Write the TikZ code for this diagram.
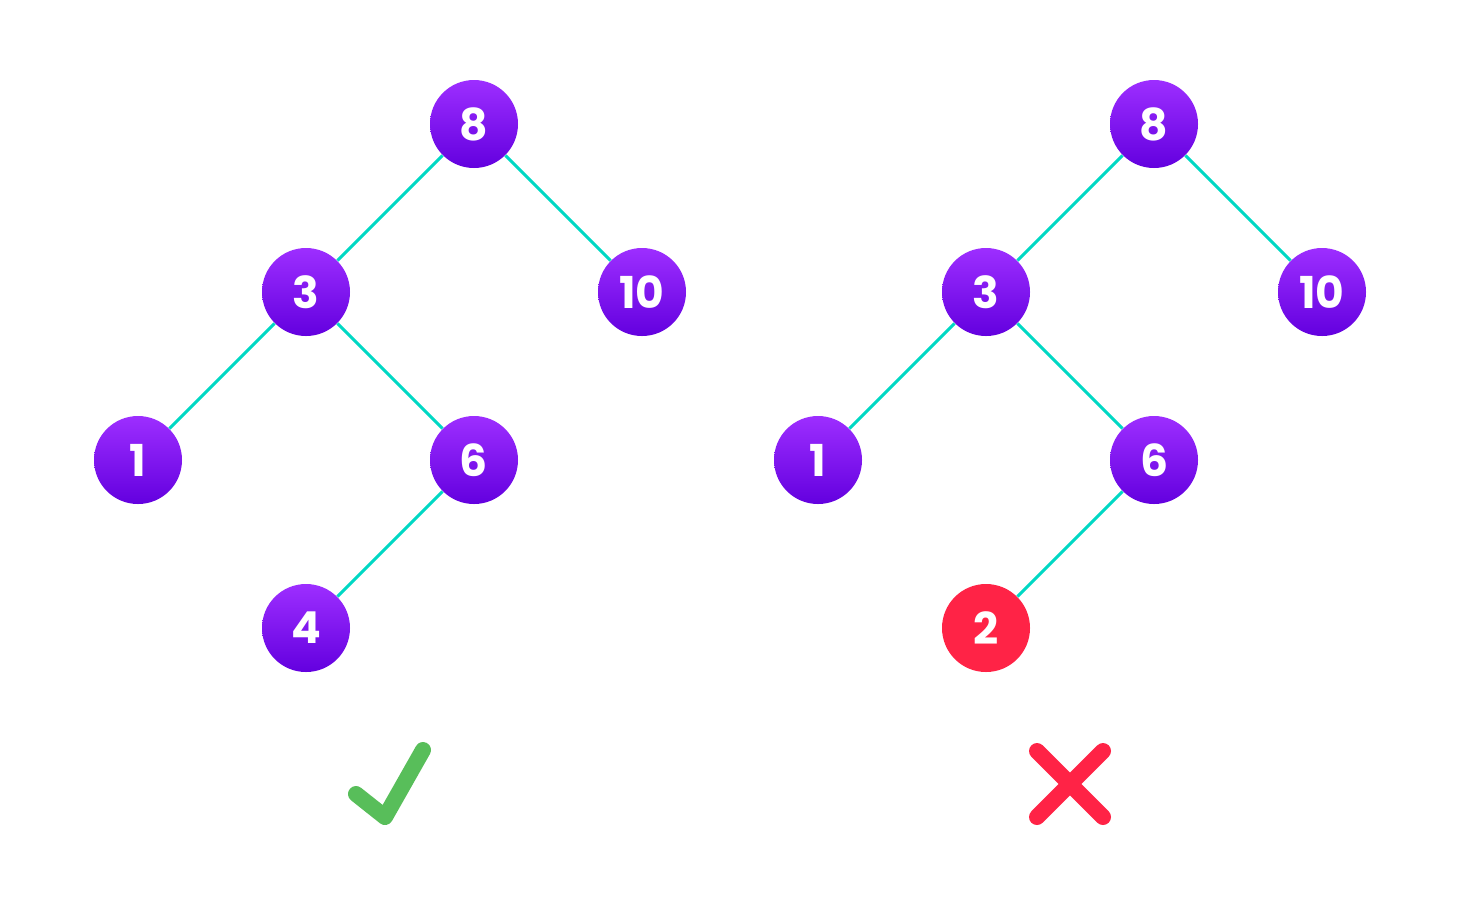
\documentclass[tikz,border=0pt]{standalone}
\usepackage{fontspec}
\setmainfont{Poppins}
\definecolor{vtop}{HTML}{9D2EFF}
\definecolor{vbot}{HTML}{6300DF}
\definecolor{edgecol}{HTML}{00D8C4}
\definecolor{badred}{HTML}{FF2346}
\definecolor{okgreen}{HTML}{58BE5A}
\tikzset{
  key/.style={circle,minimum size=44pt,inner sep=0pt,top color=vtop,bottom color=vbot,text=white,font=\fontsize{22}{26}\selectfont\bfseries},
  badkey/.style={circle,minimum size=44pt,inner sep=0pt,fill=badred,text=white,font=\fontsize{22}{26}\selectfont\bfseries},
  link/.style={draw=edgecol,line width=1.5pt}
}

\begin{document}
\begin{tikzpicture}[x=0.5pt,y=-0.5pt]
	\useasboundingbox[fill=white] (0,0) rectangle (1460,896);
	% valid tree
	\node[key] (a8) at (474,124) {8};
	\node[key] (a3) at (306,292) {3};
	\node[key] (a10) at (642,292) {10};
	\node[key] (a1) at (138,460) {1};
	\node[key] (a6) at (474,460) {6};
	\node[key] (a4) at (306,628) {4};
	\draw[link] (a8)--(a3)--(a1);
	\draw[link] (a8)--(a10);
	\draw[link] (a3)--(a6)--(a4);
	% invalid tree
	\node[key] (b8) at (1154,124) {8};
	\node[key] (b3) at (986,292) {3};
	\node[key] (b10) at (1322,292) {10};
	\node[key] (b1) at (818,460) {1};
	\node[key] (b6) at (1154,460) {6};
	\node[badkey] (b2) at (986,628) {2};
	\draw[link] (b8)--(b3)--(b1);
	\draw[link] (b8)--(b10);
	\draw[link] (b3)--(b6)--(b2);
	% marks
	\coordinate (ck1) at (356,794);
	\coordinate (ck2) at (385,817);
	\coordinate (ck3) at (423,750);
	\draw[okgreen,line width=8pt,line cap=round,line join=round] (ck1)--(ck2)--(ck3);
	\coordinate (cr1) at (1037,751);
	\coordinate (cr2) at (1103,817);
	\coordinate (cr3) at (1103,751);
	\coordinate (cr4) at (1037,817);
	\draw[badred,line width=8pt,line cap=round] (cr1)--(cr2) (cr3)--(cr4);
\end{tikzpicture}
\end{document}
